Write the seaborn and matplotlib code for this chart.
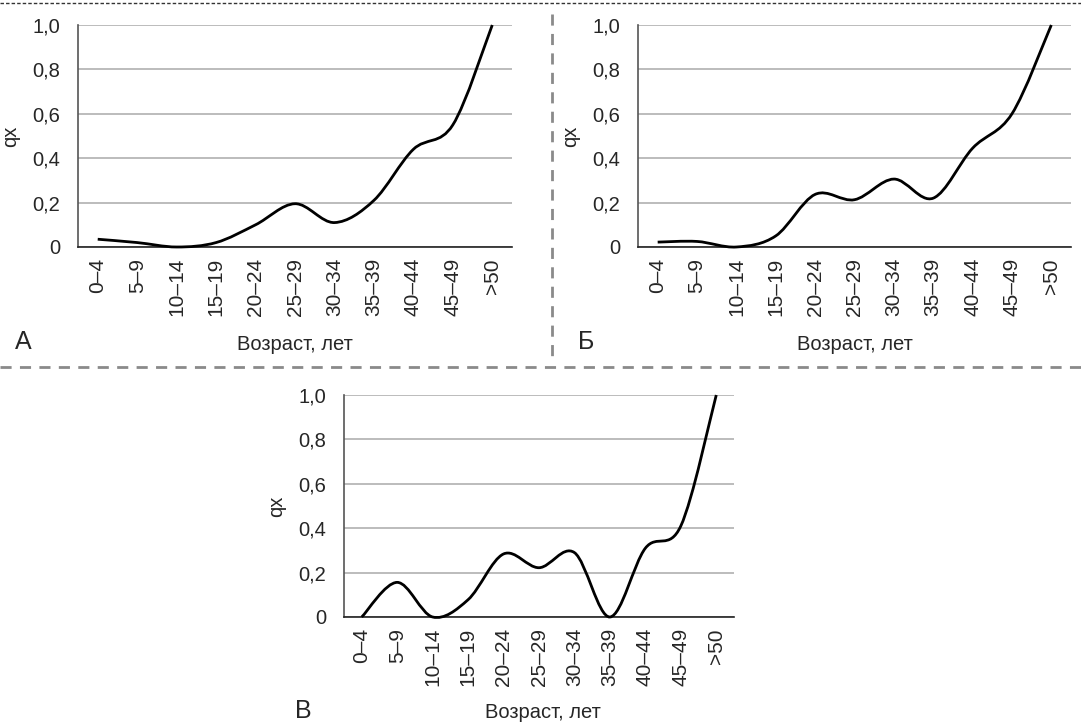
import numpy as np
import matplotlib
matplotlib.use("Agg")
import matplotlib.pyplot as plt
from matplotlib.path import Path
from matplotlib.patches import PathPatch
from matplotlib.lines import Line2D
import seaborn as sns

# Данные
age_groups = ["0–4", "5–9", "10–14", "15–19", "20–24", "25–29",
              "30–34", "35–39", "40–44", "45–49", ">50"]
qx_a = [0.035, 0.02, 0.0, 0.02, 0.10, 0.195, 0.11, 0.21, 0.44, 0.55, 1.0]
qx_b = [0.022, 0.025, 0.0, 0.05, 0.237, 0.213, 0.306, 0.22, 0.445, 0.60, 1.0]
qx_c = [0.0, 0.156, 0.0, 0.078, 0.284, 0.222, 0.29, 0.0, 0.31, 0.41, 1.0]
y_ticks = [0, 0.2, 0.4, 0.6, 0.8, 1.0]
y_labels = ["0", "0,2", "0,4", "0,6", "0,8", "1,0"]
panel_names = ["А", "Б", "В"]

sns.set_style("white")
plt.rcParams["font.family"] = ["Liberation Sans", "DejaVu Sans"]

W, H = 1081, 724
fig = plt.figure(figsize=(W / 100, H / 100), dpi=100)


def px_axes(left, top, right, bottom):
    # координаты в пикселях -> доли фигуры
    return fig.add_axes([left / W, 1 - bottom / H, (right - left) / W, (bottom - top) / H])


def smooth_path(values):
    # сглаженная линия как в Excel (кривые Безье через точки данных)
    pts = np.column_stack([np.arange(len(values)), values]).astype(float)
    n = len(pts)
    verts = [pts[0]]
    codes = [Path.MOVETO]
    for i in range(n - 1):
        p0 = pts[max(i - 1, 0)]
        p1 = pts[i]
        p2 = pts[i + 1]
        p3 = pts[min(i + 2, n - 1)]
        verts += [p1 + (p2 - p0) / 6, p2 - (p3 - p1) / 6, p2]
        codes += [Path.CURVE4] * 3
    return Path(verts, codes)


def draw_panel(ax, values, letter, letter_xy, xlabel_xy):
    ax.set_xlim(-0.5, len(age_groups) - 0.5)
    ax.set_ylim(0, 1.0)
    ax.add_patch(PathPatch(smooth_path(values), facecolor="none",
                           edgecolor="black", lw=2, clip_on=False, zorder=3))
    ax.set_yticks(y_ticks)
    ax.set_yticklabels(y_labels, fontsize=14.5)
    ax.set_xticks(range(len(age_groups)))
    ax.set_xticklabels(age_groups, rotation=90, fontsize=15)
    ax.set_xticks(np.arange(-0.5, len(age_groups)), minor=True)
    ax.tick_params(axis="x", which="major", length=0, pad=8)
    ax.tick_params(axis="x", which="minor", direction="inout", length=10,
                   width=1.2, color="#333333")
    ax.tick_params(axis="y", direction="out", length=5, width=1.2,
                   color="#555555", pad=8)
    ax.grid(axis="y", color="#b0b0b0", lw=1.2)
    ax.set_axisbelow(True)
    sns.despine(ax=ax, top=True, right=True)
    ax.spines["left"].set_color("#555555")
    ax.spines["left"].set_linewidth(1.2)
    ax.spines["bottom"].set_color("#222222")
    ax.spines["bottom"].set_linewidth(1.2)
    # подпись оси Y
    bb = ax.get_position()
    ax.set_ylabel("qx", fontsize=14.5)
    ax.yaxis.set_label_coords(-58 / (bb.width * W), 0.5)
    fig.text(xlabel_xy[0] / W, 1 - xlabel_xy[1] / H, "Возраст, лет",
             fontsize=14.5, ha="center", va="center")
    fig.text(letter_xy[0] / W, 1 - letter_xy[1] / H, letter,
             fontsize=18, ha="center", va="center")


ax_a = px_axes(78, 25, 512, 247)
ax_b = px_axes(638, 25, 1071, 247)
ax_c = px_axes(344, 395, 734, 617)

draw_panel(ax_a, qx_a, panel_names[0], (23, 342), (295, 345))
draw_panel(ax_b, qx_b, panel_names[1], (586, 342), (855, 345))
draw_panel(ax_c, qx_c, panel_names[2], (303, 711), (543, 713))

# разделители
fig.add_artist(Line2D([0, 1], [1 - 3 / H, 1 - 3 / H], color="#333333",
                      lw=1, ls=(0, (2.5, 1.5))))
fig.add_artist(Line2D([552 / W, 552 / W], [1 - 14 / H, 1 - 364 / H],
                      color="#8a8a8a", lw=2, ls=(0, (4, 3))))
fig.add_artist(Line2D([0, 1], [1 - 367 / H, 1 - 367 / H], color="#8a8a8a",
                      lw=2, ls=(0, (4, 3))))

fig.savefig("out.png", dpi=100)
